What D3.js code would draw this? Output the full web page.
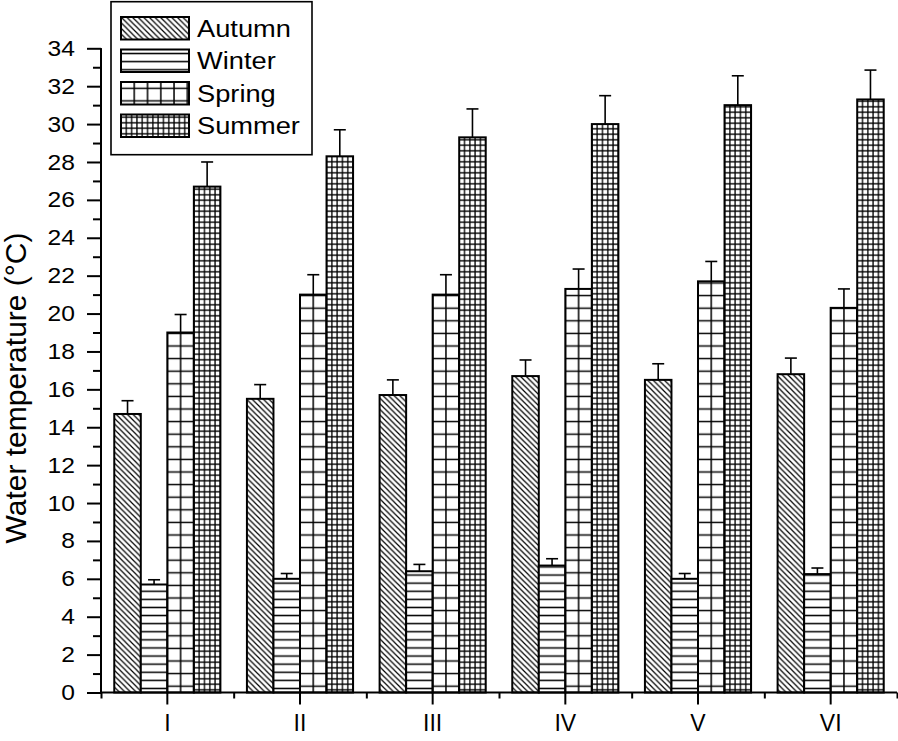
<!DOCTYPE html>
<html>
<head>
<meta charset="utf-8">
<script src="https://cdn.jsdelivr.net/npm/d3@7"></script>
<style>
  html, body { margin: 0; padding: 0; background: #fff; }
  svg { display: block; font-family: "Liberation Sans", Arial, sans-serif; }
</style>
</head>
<body>
<svg id="chart" width="898" height="741"></svg>
<script>
// ---- data ----
const categories = ["I", "II", "III", "IV", "V", "VI"];
const seasons = ["Autumn", "Winter", "Spring", "Summer"];
const autumn    = [14.7, 15.5, 15.7, 16.7, 16.5, 16.8];
const autumnErr = [0.7, 0.75, 0.8, 0.85, 0.85, 0.85];
const winter    = [5.7, 6.0, 6.4, 6.7, 6.0, 6.25];
const winterErr = [0.25, 0.28, 0.36, 0.36, 0.28, 0.32];
const spring    = [19.0, 21.0, 21.0, 21.3, 21.7, 20.3];
const springErr = [0.95, 1.05, 1.05, 1.05, 1.05, 1.0];
const summer    = [26.7, 28.3, 29.3, 30.0, 31.0, 31.3];
const summerErr = [1.3, 1.4, 1.5, 1.5, 1.55, 1.55];
const yMajorTicks = d3.range(0, 35, 2);
const yMinorTicks = d3.range(1, 35, 2);
const yLabel = "Water temperature (°C)";

const seriesValues = [autumn, winter, spring, summer];
const seriesErrs = [autumnErr, winterErr, springErr, summerErr];

// ---- layout ----
const svg = d3.select("#chart");
const x0 = 101, x1 = 897, yBase = 692.5, yTop = 48.3;

const x = d3.scaleBand().domain(categories).range([x0, x1])
  .paddingInner(0.2).paddingOuter(0.1);
const xs = d3.scaleBand().domain(seasons).range([0, x.bandwidth()]);
const y = d3.scaleLinear().domain([0, 34]).range([yBase, yTop]);

const defs = svg.append("defs");
const bw = xs.bandwidth();

function makePattern(id, kind, ox, oy) {
  let w, h, d, sw;
  if (kind === "Autumn") {
    w = 5.6; h = 5.6; sw = 1.2;
    d = `M-1,-1L${w+1},${h+1}M-1,${h-1}L1,${h+1}M${w-1},-1L${w+1},1`;
  } else if (kind === "Winter") {
    w = 10; h = 8.1; sw = 1.5;
    d = `M-1,${h/2}L${w+1},${h/2}`;
  } else if (kind === "Spring") {
    w = bw / 2; h = 12.6; sw = 1.5;
    d = `M-1,${h/2}L${w+1},${h/2}M${w/2},-1L${w/2},${h+1}`;
  } else {
    w = bw / 5; h = 5.5; sw = 1.3;
    d = `M-1,${h/2}L${w+1},${h/2}M${w/2},-1L${w/2},${h+1}`;
  }
  let px = ox, py = oy;
  if (kind === "Spring" || kind === "Summer") px = ox - w / 2;
  const p = defs.append("pattern").attr("id", id)
    .attr("patternUnits", "userSpaceOnUse")
    .attr("x", px).attr("y", py).attr("width", w).attr("height", h);
  p.append("rect").attr("width", w).attr("height", h).attr("fill", "#fff");
  p.append("path").attr("d", d).attr("stroke", "#000")
    .attr("stroke-width", sw).attr("fill", "none");
}

seasons.forEach(s => makePattern("pat-" + s, s, x(categories[0]) + xs(s), yBase));

// ---- bars ----
const data = [];
categories.forEach((c, i) => {
  seasons.forEach((s, j) => {
    data.push({ cat: c, season: s, value: seriesValues[j][i], err: seriesErrs[j][i] });
  });
});

const g = svg.append("g");
const eb = g.selectAll(".err").data(data).join("g").attr("class", "err");
eb.append("line")
  .attr("x1", d => x(d.cat) + xs(d.season) + bw / 2)
  .attr("x2", d => x(d.cat) + xs(d.season) + bw / 2)
  .attr("y1", d => y(d.value))
  .attr("y2", d => y(d.value + d.err))
  .attr("stroke", "#000").attr("stroke-width", 1.6);
eb.append("line")
  .attr("x1", d => x(d.cat) + xs(d.season) + bw / 2 - 6)
  .attr("x2", d => x(d.cat) + xs(d.season) + bw / 2 + 6)
  .attr("y1", d => y(d.value + d.err))
  .attr("y2", d => y(d.value + d.err))
  .attr("stroke", "#000").attr("stroke-width", 1.6);

g.selectAll("rect.bar").data(data).join("rect").attr("class", "bar")
  .attr("x", d => x(d.cat) + xs(d.season))
  .attr("y", d => y(d.value))
  .attr("width", bw)
  .attr("height", d => yBase - y(d.value))
  .attr("fill", d => `url(#pat-${d.season})`)
  .attr("stroke", "#000").attr("stroke-width", 2);

// ---- axes ----
const yAxisMajor = svg.append("g").attr("transform", `translate(${x0},0)`)
  .call(d3.axisLeft(y).tickValues(yMajorTicks).tickSize(14).tickPadding(12).tickFormat(d3.format("d")));
const yAxisMinor = svg.append("g").attr("transform", `translate(${x0},0)`)
  .call(d3.axisLeft(y).tickValues(yMinorTicks).tickSize(8).tickFormat(""));
[yAxisMajor, yAxisMinor].forEach(a => {
  a.select(".domain").attr("stroke-width", 2).attr("d", `M0,${yBase}V${yTop}`);
  a.selectAll(".tick line").attr("stroke-width", 2);
});
yAxisMajor.selectAll("text")
  .attr("font-size", 22)
  .attr("font-family", "Liberation Sans, Arial, sans-serif").attr("fill", "#000")
  .attr("x", 0)
  .attr("transform", "translate(-26,0) scale(1.12,1)");

const xAxis = svg.append("g").attr("transform", `translate(0,${yBase})`)
  .call(d3.axisBottom(x).tickSize(12).tickPadding(10));
xAxis.select(".domain").attr("stroke-width", 2).attr("d", `M${x0},0H${x1}`);
xAxis.selectAll(".tick line").attr("stroke-width", 2);
xAxis.selectAll("text").attr("font-size", 23)
  .attr("font-family", "Liberation Sans, Arial, sans-serif").attr("fill", "#000");

const xMinor = d3.scaleLinear().domain([0, categories.length]).range([x0, x1]);
const xAxisMinor = svg.append("g").attr("transform", `translate(0,${yBase})`)
  .call(d3.axisBottom(xMinor).tickValues(d3.range(0, categories.length + 1)).tickSize(6).tickFormat(""));
xAxisMinor.select(".domain").remove();
xAxisMinor.selectAll(".tick line").attr("stroke-width", 2);

// y label
svg.append("text")
  .attr("transform", `translate(26,388) rotate(-90)`)
  .attr("text-anchor", "middle")
  .attr("font-size", 30)
  .attr("fill", "#000")
  .text(yLabel);

// ---- legend ----
const lg = svg.append("g");
lg.append("rect").attr("x", 111).attr("y", 1.7).attr("width", 201).attr("height", 153)
  .attr("fill", "#fff").attr("stroke", "#000").attr("stroke-width", 1.6);
const legendRowY = [17, 49.5, 82, 114.5];
seasons.forEach((s, i) => {
  makePattern("lpat-" + s, s, 121, legendRowY[i]);
  lg.append("rect").attr("x", 121).attr("y", legendRowY[i]).attr("width", 68).attr("height", 22.5)
    .attr("fill", `url(#lpat-${s})`).attr("stroke", "#000").attr("stroke-width", 2);
  lg.append("text")
    .attr("transform", `translate(197,${legendRowY[i] + 19.5}) scale(1.16,1)`)
    .attr("font-size", 23.5).attr("fill", "#000").text(s);
});
</script>
</body>
</html>
